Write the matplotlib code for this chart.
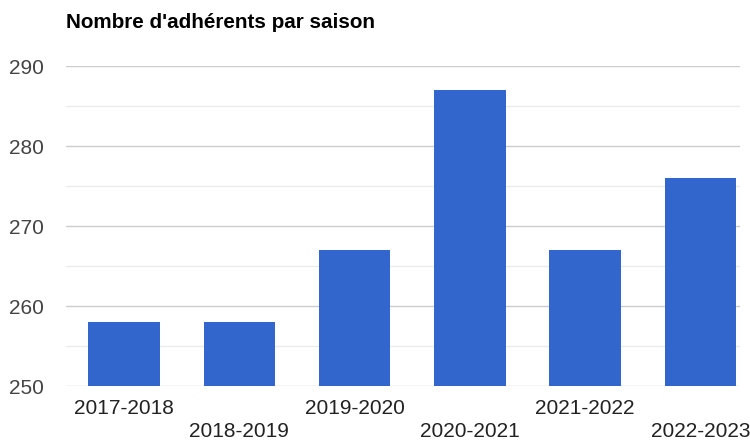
import matplotlib
matplotlib.use('Agg')
import matplotlib.pyplot as plt
from matplotlib.ticker import MultipleLocator

saisons = ['2017-2018', '2018-2019', '2019-2020', '2020-2021', '2021-2022', '2022-2023']
adherents = [258, 258, 267, 287, 267, 276]

plt.rcParams['font.family'] = ['Liberation Sans', 'DejaVu Sans']

fig = plt.figure(figsize=(7.5, 4.46), dpi=100)
ax = fig.add_axes([0.088, 0.1345, 0.8987, 0.7175])

x = list(range(len(saisons)))
ax.bar(x, adherents, width=0.62, color='#3366cc', zorder=3)

ax.set_ylim(250, 290)
ax.set_xlim(-0.503, 5.343)
ax.yaxis.set_major_locator(MultipleLocator(10))
ax.yaxis.set_minor_locator(MultipleLocator(5))
ax.grid(which='major', axis='y', color='#cccccc', linewidth=1, zorder=0)
ax.grid(which='minor', axis='y', color='#ebebeb', linewidth=1, zorder=0)

labels = [s if i % 2 == 0 else '\n' + s for i, s in enumerate(saisons)]
ax.set_xticks(x)
ax.set_xticklabels(labels, fontsize=15, color='#222222', linespacing=1.3)
ax.tick_params(axis='x', length=0, pad=9)
ax.tick_params(axis='y', which='both', length=0, pad=16, labelsize=15, labelcolor='#444444')

for s in ax.spines.values():
    s.set_visible(False)

fig.text(66 / 750, 1 - 23 / 446, "Nombre d'adhérents par saison", fontsize=14.9,
         fontweight='bold', color='#000000', ha='left', va='center')

fig.savefig('out.png', dpi=100)
